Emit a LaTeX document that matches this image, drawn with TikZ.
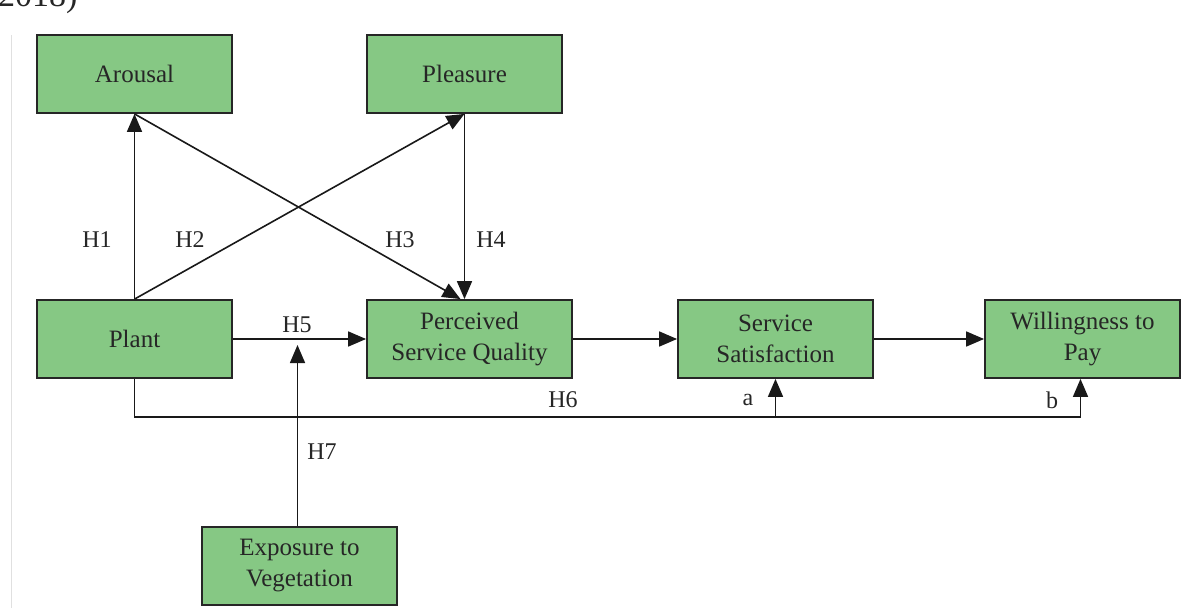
\documentclass[tikz,border=0pt]{standalone}
\usepackage{fontspec}
\setmainfont{Liberation Serif}
\usetikzlibrary{arrows.meta}
\definecolor{boxgreen}{RGB}{134,200,132}
\definecolor{txt}{RGB}{38,38,38}
\begin{document}
\begin{tikzpicture}[x=1pt,y=-1pt,
  box/.style={draw=black!85, line width=1.8pt, fill=boxgreen, minimum width=195pt, minimum height=78pt, inner sep=0pt, align=center, font=\fontsize{25}{31}\selectfont, text=txt},
  conn/.style={line width=1.6pt, draw=black!90, -{Triangle[length=18pt,width=15pt]}},
  lab/.style={font=\fontsize{24}{28}\selectfont, text=txt, inner sep=0pt}]
\clip (0,0) rectangle (1197,608);
\fill[white] (0,0) rectangle (1197,608);
\draw[black!12, line width=1pt] (11,35) -- (11,608);
\node[anchor=base west, font=\fontsize{34}{40}\selectfont, text=txt, inner sep=0pt] (cap) at (-2,6) {2018)};

\node[box] (Arousal) at (134.5,74) {Arousal};
\node[box] (Pleasure) at (464.5,74) {Pleasure};
\node[box] (Plant) at (134.5,339) {Plant};
\node[box, minimum width=205pt] (PSQ) at (469.5,339) {Perceived\\Service Quality};
\node[box] (SS) at (775.5,339) {Service\\Satisfaction};
\node[box] (WtP) at (1082.5,339) {Willingness to\\Pay};
\node[box] (Exp) at (299.5,566) {Exposure to\\Vegetation};

\coordinate (h6) at (0,417);
\coordinate (h7tip) at (0,345);

\draw[conn] (Plant.north) -- (Arousal.south);
\draw[conn] (Plant.north) -- (Pleasure.south);
\draw[conn] (Arousal.south) -- ([xshift=-9pt]PSQ.north);
\draw[conn] (Pleasure.south) -- (PSQ.north -| Pleasure.south);
\draw[conn] (Plant.east) -- (PSQ.west);
\draw[conn] (PSQ.east) -- (SS.west);
\draw[conn] (SS.east) -- (WtP.west);
\draw[conn] (Plant.south) -- (Plant.south |- h6) -- ([xshift=-2pt]WtP.south |- h6) -- ([xshift=-2pt]WtP.south);
\draw[conn] (SS.south |- h6) -- (SS.south);
\draw[conn] ([xshift=-2pt]Exp.north) -- ([xshift=-2pt]Exp.north |- h7tip);

\node[lab] (H1) at (97,240) {H1};
\node[lab] (H2) at (190,240) {H2};
\node[lab] (H3) at (400,240) {H3};
\node[lab] (H4) at (491,240) {H4};
\node[lab] (H5) at (297,325) {H5};
\node[lab] (H6) at (563,400) {H6};
\node[lab] (a) at (748,400) {a};
\node[lab] (b) at (1052,400) {b};
\node[lab] (H7) at (322,452) {H7};
\end{tikzpicture}
\end{document}
